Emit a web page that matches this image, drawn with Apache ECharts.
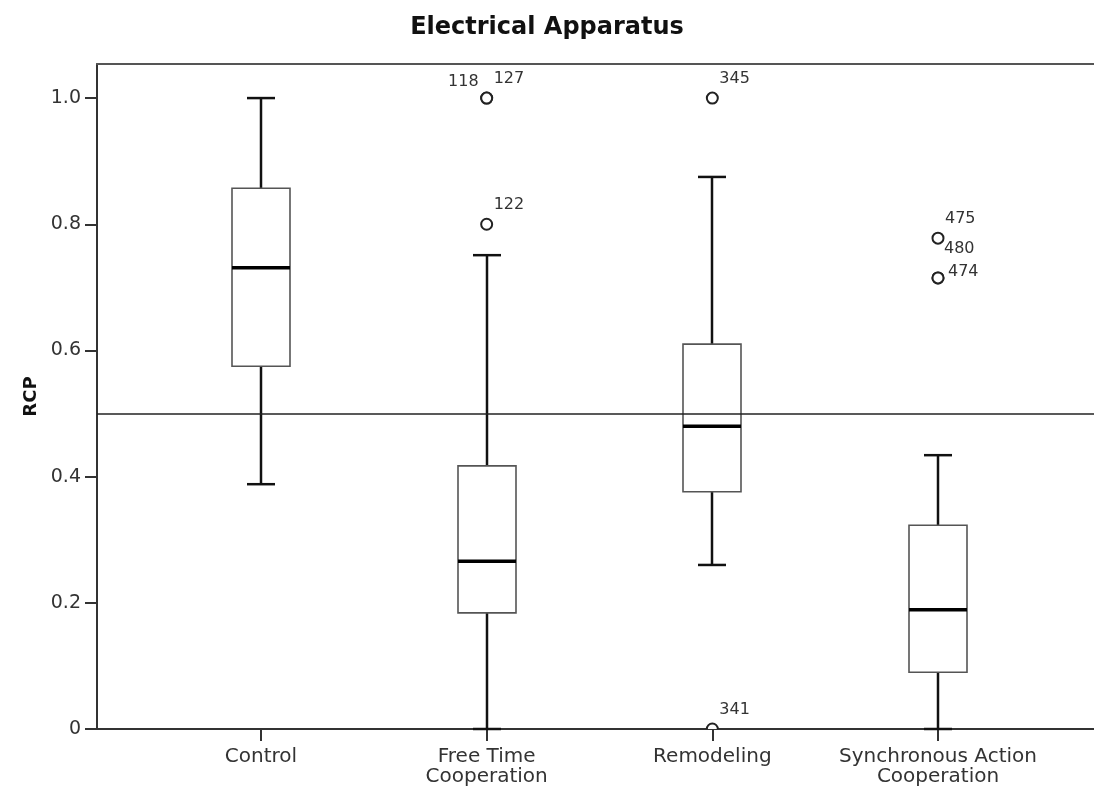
<!DOCTYPE html>
<html>
<head>
<meta charset="utf-8">
<script src="https://cdn.jsdelivr.net/npm/echarts@6/dist/echarts.min.js"></script>
<style>
  html, body { margin: 0; padding: 0; background: #fff; }
  #chart { width: 1094px; height: 796px; }
</style>
</head>
<body>
<div id="chart"></div>
<script>
// ---- Data ----
const categories = ['Control', 'Free Time\nCooperation', 'Remodeling', 'Synchronous Action\nCooperation'];
const whiskerLow  = [0.388, 0.000, 0.260, 0.000];
const q1          = [0.575, 0.184, 0.376, 0.090];
const median      = [0.731, 0.266, 0.480, 0.189];
const q3          = [0.857, 0.417, 0.610, 0.323];
const whiskerHigh = [1.000, 0.751, 0.875, 0.434];

const outlierGroup = [2, 2, 2, 3, 3, 4, 4, 4];
const outlierValue = [1.000, 1.000, 0.800, 1.000, 0.000, 0.778, 0.715, 0.715];
const outlierId    = ['118', '127', '122', '345', '341', '475', '480', '474'];

const yTickValues = [0, 0.2, 0.4, 0.6, 0.8, 1.0];
const yTickLabels = ['0', '0.2', '0.4', '0.6', '0.8', '1.0'];
const referenceValue = 0.5;

// ---- Styling helpers (not data) ----
const labelPlacement = {
  '118': { dx: -8, dy: -16, align: 'right' },
  '480': { dx: 6, dy: -29, align: 'left' },
  '474': { dx: 10, dy: -6, align: 'left' }
};
const defaultPlacement = { dx: 7, dy: -19, align: 'left' };

const boxData = categories.map((c, i) => [i + 1, whiskerLow[i], q1[i], median[i], q3[i], whiskerHigh[i]]);
const outlierData = outlierGroup.map((g, i) => [g, outlierValue[i]]);

const X_MIN = 0.2733, X_MAX = 4.6913;

function renderBox(params, api) {
  const x = api.value(0);
  const pLow = api.coord([x, api.value(1)]);
  const pQ1 = api.coord([x, api.value(2)]);
  const pMed = api.coord([x, api.value(3)]);
  const pQ3 = api.coord([x, api.value(4)]);
  const pHigh = api.coord([x, api.value(5)]);
  const cx = Math.round(pLow[0]);
  const bw = 58, cw = 28;
  const wStyle = { stroke: '#111', lineWidth: 2.5 };
  return {
    type: 'group',
    children: [
      { type: 'line', shape: { x1: cx, y1: pQ3[1], x2: cx, y2: pHigh[1] }, style: wStyle },
      { type: 'line', shape: { x1: cx, y1: pQ1[1], x2: cx, y2: pLow[1] }, style: wStyle },
      { type: 'line', shape: { x1: cx - cw / 2, y1: pHigh[1], x2: cx + cw / 2, y2: pHigh[1] }, style: { stroke: '#111', lineWidth: 2.5 } },
      { type: 'line', shape: { x1: cx - cw / 2, y1: pLow[1], x2: cx + cw / 2, y2: pLow[1] }, style: { stroke: '#111', lineWidth: 2.5 } },
      { type: 'rect', shape: { x: cx - bw / 2, y: pQ3[1], width: bw, height: pQ1[1] - pQ3[1] }, style: { fill: '#fff', stroke: '#555', lineWidth: 1.6 } },
      { type: 'line', shape: { x1: cx - bw / 2, y1: pMed[1], x2: cx + bw / 2, y2: pMed[1] }, style: { stroke: '#000', lineWidth: 3.5 } }
    ]
  };
}

function renderOutlier(params, api) {
  const p = api.coord([api.value(0), api.value(1)]);
  const id = outlierId[params.dataIndex];
  const pl = labelPlacement[id] || defaultPlacement;
  return {
    type: 'group',
    children: [
      { type: 'circle', shape: { cx: p[0], cy: p[1], r: 5.5 }, style: { fill: '#fff', stroke: '#222', lineWidth: 2 } },
      { type: 'text', x: p[0] + pl.dx, y: p[1] + pl.dy,
        style: { text: id, fill: '#333', font: '16px "DejaVu Sans"', align: pl.align, verticalAlign: 'middle' } }
    ]
  };
}

const chart = echarts.init(document.getElementById('chart'), null, { renderer: 'canvas' });
chart.setOption({
  animation: false,
  backgroundColor: '#fff',
  title: {
    text: 'Electrical Apparatus',
    left: 'center',
    top: 11,
    textStyle: { fontFamily: 'DejaVu Sans', fontWeight: 'bold', fontSize: 24, color: '#111' }
  },
  grid: { left: 97, right: 0, top: 64, bottom: 67 },
  xAxis: [
    {
      type: 'value',
      min: X_MIN,
      max: X_MAX,
      position: 'bottom',
      splitLine: { show: false },
      axisLine: { show: true, lineStyle: { color: '#333', width: 2 } },
      axisTick: { show: true, length: 12, inside: false, customValues: [1, 2, 3, 4], lineStyle: { color: '#333', width: 2 } },
      axisLabel: {
        customValues: [1, 2, 3, 4],
        formatter: v => categories[Math.round(v) - 1] || '',
        fontFamily: 'DejaVu Sans',
        fontSize: 20,
        lineHeight: 20,
        color: '#333',
        margin: 18
      }
    },
    {
      type: 'value',
      min: X_MIN,
      max: X_MAX,
      position: 'top',
      splitLine: { show: false },
      axisLine: { show: true, lineStyle: { color: '#555', width: 2 } },
      axisTick: { show: false },
      axisLabel: { show: false }
    }
  ],
  yAxis: {
    type: 'value',
    min: 0,
    max: 1.054,
    name: 'RCP',
    nameLocation: 'middle',
    nameGap: 56,
    nameTextStyle: { fontFamily: 'DejaVu Sans', fontWeight: 'bold', fontSize: 18, color: '#111' },
    splitLine: { show: false },
    axisLine: { show: true, lineStyle: { color: '#333', width: 2 } },
    axisTick: { show: true, length: 12, inside: false, customValues: yTickValues, lineStyle: { color: '#333', width: 2 } },
    axisLabel: {
      customValues: yTickValues,
      formatter: v => {
        const i = yTickValues.findIndex(t => Math.abs(t - v) < 1e-6);
        return i >= 0 ? yTickLabels[i] : '';
      },
      fontFamily: 'DejaVu Sans',
      fontSize: 19,
      color: '#333',
      margin: 16
    }
  },
  series: [
    {
      type: 'custom',
      name: 'boxes',
      xAxisIndex: 0,
      renderItem: renderBox,
      data: boxData,
      encode: { x: 0, y: [1, 2, 3, 4, 5] },
      z: 2
    },
    {
      type: 'custom',
      name: 'outliers',
      xAxisIndex: 0,
      renderItem: renderOutlier,
      data: outlierData,
      encode: { x: 0, y: 1 },
      clip: true,
      z: 3,
      markLine: {
        silent: true,
        symbol: 'none',
        label: { show: false },
        lineStyle: { color: '#222', width: 1.5, type: 'solid' },
        data: [{ yAxis: referenceValue }],
        z: 4
      }
    }
  ]
});
</script>
</body>
</html>
